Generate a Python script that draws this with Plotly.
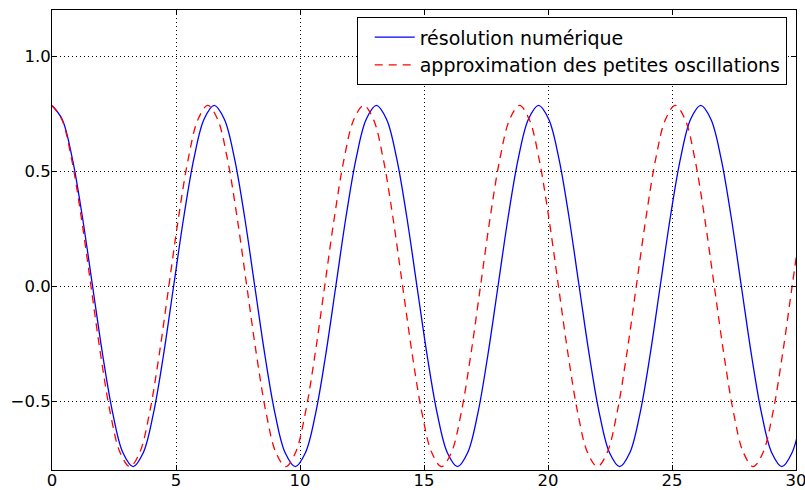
import plotly.graph_objects as go

# --- data ---
# small-oscillation approximation (red dashed), sampled at 1/16 of its period
t_approx = [0.000, 0.393, 0.785, 1.178, 1.571, 1.963, 2.356, 2.749, 3.142, 3.534,
            3.927, 4.320, 4.712, 5.105, 5.498, 5.890, 6.283, 6.676, 7.069, 7.461,
            7.854, 8.247, 8.639, 9.032, 9.425, 9.817, 10.210, 10.603, 10.996, 11.388,
            11.781, 12.174, 12.566, 12.959, 13.352, 13.744, 14.137, 14.530, 14.923, 15.315,
            15.708, 16.101, 16.493, 16.886, 17.279, 17.671, 18.064, 18.457, 18.850, 19.242,
            19.635, 20.028, 20.420, 20.813, 21.206, 21.598, 21.991, 22.384, 22.777, 23.169,
            23.562, 23.955, 24.347, 24.740, 25.133, 25.525, 25.918, 26.311, 26.704, 27.096,
            27.489, 27.882, 28.274, 28.667, 29.060, 29.452, 29.845, 30.238]
theta_approx = [0.785, 0.725, 0.555, 0.300, 0.000, -0.300, -0.555, -0.725,
                -0.785, -0.725, -0.555, -0.300, 0.000, 0.300, 0.555, 0.725,
                0.785, 0.725, 0.555, 0.300, 0.000, -0.300, -0.555, -0.725,
                -0.785, -0.725, -0.555, -0.300, 0.000, 0.300, 0.555, 0.725,
                0.785, 0.725, 0.555, 0.300, 0.000, -0.300, -0.555, -0.725,
                -0.785, -0.725, -0.555, -0.300, 0.000, 0.300, 0.555, 0.725,
                0.785, 0.725, 0.555, 0.300, 0.000, -0.300, -0.555, -0.725,
                -0.785, -0.725, -0.555, -0.300, 0.000, 0.300, 0.555, 0.725,
                0.785, 0.725, 0.555, 0.300, 0.000, -0.300, -0.555, -0.725,
                -0.785, -0.725, -0.555, -0.300, 0.000, 0.300]

# numerical solution (blue solid), sampled at 1/16 of its (longer) period
t_num = [0.000, 0.409, 0.818, 1.226, 1.635, 2.044, 2.453, 2.861, 3.270, 3.679,
         4.088, 4.496, 4.905, 5.314, 5.723, 6.131, 6.540, 6.949, 7.358, 7.766,
         8.175, 8.584, 8.993, 9.401, 9.810, 10.219, 10.628, 11.036, 11.445, 11.854,
         12.263, 12.671, 13.080, 13.489, 13.898, 14.306, 14.715, 15.124, 15.533, 15.941,
         16.350, 16.759, 17.168, 17.576, 17.985, 18.394, 18.803, 19.211, 19.620, 20.029,
         20.438, 20.846, 21.255, 21.664, 22.073, 22.481, 22.890, 23.299, 23.708, 24.116,
         24.525, 24.934, 25.343, 25.751, 26.160, 26.569, 26.978, 27.386, 27.795, 28.204,
         28.613, 29.021, 29.430, 29.839, 30.248]
theta_num = [0.785, 0.725, 0.555, 0.300, 0.000, -0.300, -0.555, -0.725,
             -0.785, -0.725, -0.555, -0.300, 0.000, 0.300, 0.555, 0.725,
             0.785, 0.725, 0.555, 0.300, 0.000, -0.300, -0.555, -0.725,
             -0.785, -0.725, -0.555, -0.300, 0.000, 0.300, 0.555, 0.725,
             0.785, 0.725, 0.555, 0.300, 0.000, -0.300, -0.555, -0.725,
             -0.785, -0.725, -0.555, -0.300, 0.000, 0.300, 0.555, 0.725,
             0.785, 0.725, 0.555, 0.300, 0.000, -0.300, -0.555, -0.725,
             -0.785, -0.725, -0.555, -0.300, 0.000, 0.300, 0.555, 0.725,
             0.785, 0.725, 0.555, 0.300, 0.000, -0.300, -0.555, -0.725,
             -0.785, -0.725, -0.555]

name_num = "résolution numérique"
name_approx = "approximation des petites oscillations"

x_ticks = [0, 5, 10, 15, 20, 25, 30]
y_ticks = [-0.5, 0.0, 0.5, 1.0]

FONT = "DejaVu Sans"

fig = go.Figure()
fig.add_trace(go.Scatter(
    x=t_num, y=theta_num, mode="lines", name=name_num,
    line=dict(color="#0000ff", width=1.3, shape="spline"),
))
fig.add_trace(go.Scatter(
    x=t_approx, y=theta_approx, mode="lines", name=name_approx,
    line=dict(color="#ff0000", width=1.3, shape="spline", dash="8px,6px"),
))

axis_common = dict(
    showline=True, linecolor="black", linewidth=1, mirror="ticks",
    ticks="inside", ticklen=5, tickcolor="black", tickwidth=1,
    showgrid=True, gridcolor="#000000", gridwidth=1, griddash="1px,3px",
    zeroline=False, automargin=False, ticklabeloverflow="allow",
    tickfont=dict(family=FONT, size=16.5, color="black"),
)

fig.update_xaxes(range=[0, 30], tickvals=x_ticks, ticklabelstandoff=-5, **axis_common)
fig.update_yaxes(range=[-0.8, 1.2], tickvals=y_ticks, tickformat=".1f",
                 ticklabelstandoff=-3, **axis_common)

fig.update_layout(
    width=805, height=490,
    margin=dict(l=52, r=9, t=10, b=20),
    paper_bgcolor="white", plot_bgcolor="white",
    font=dict(family=FONT, color="black"),
    showlegend=True,
    legend=dict(
        x=0.9875, y=0.984, xanchor="right", yanchor="top",
        bgcolor="white", bordercolor="black", borderwidth=1,
        font=dict(family=FONT, size=19, color="black"),
        itemwidth=40, indentation=12,
    ),
)

fig.write_html(
    "out.html",
    config={"displayModeBar": False},
    post_script="document.body.style.margin='0';document.body.style.padding='0';",
)
